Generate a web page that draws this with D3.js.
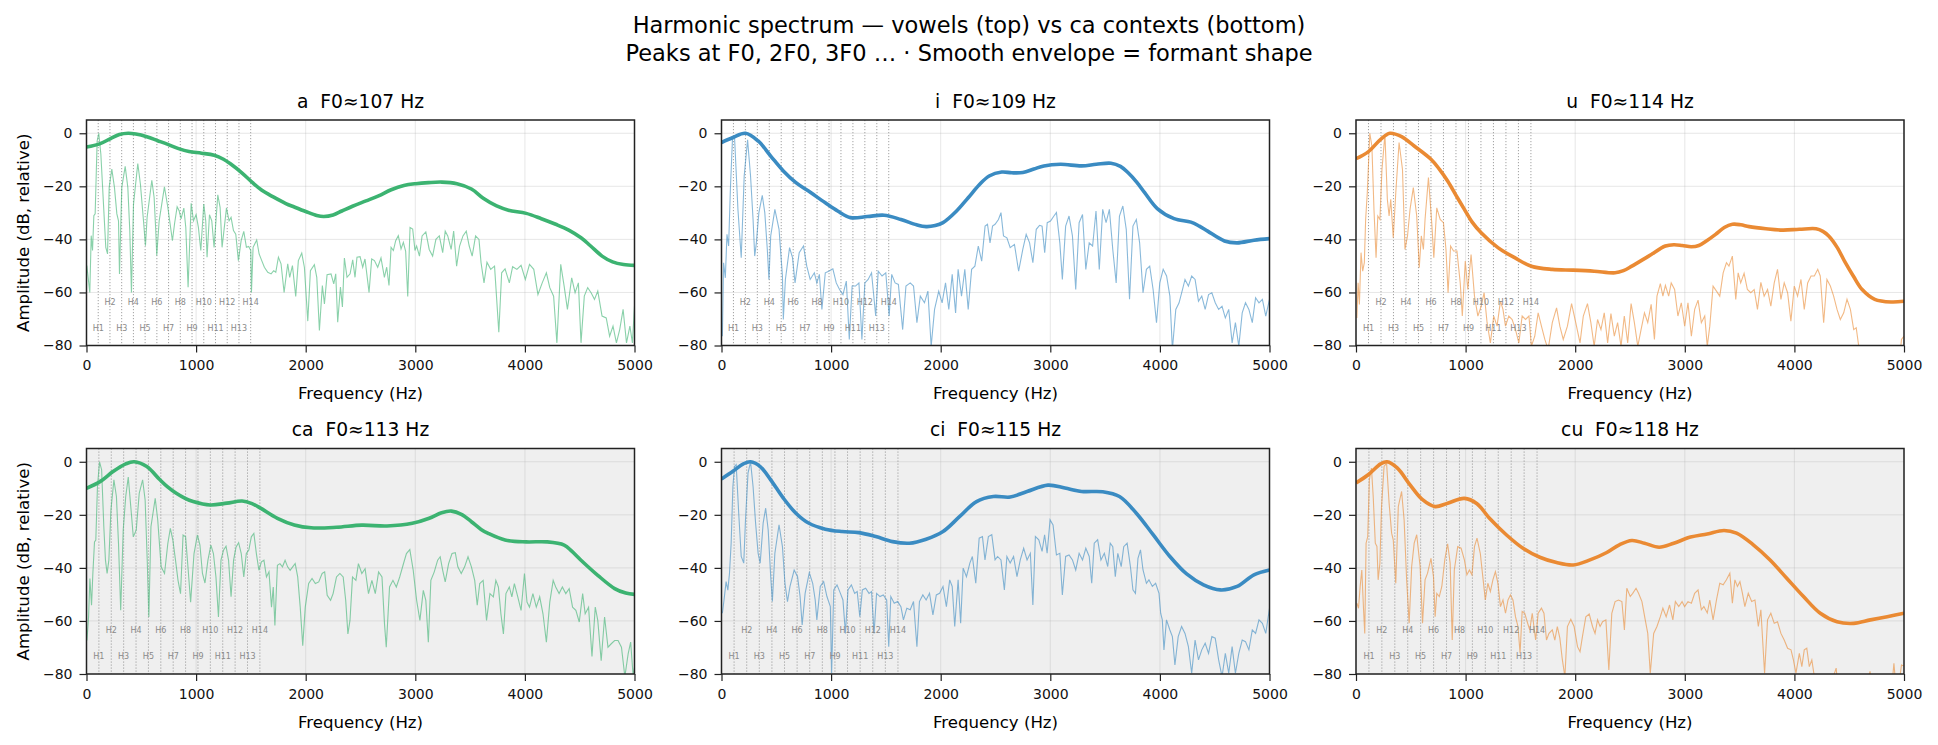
<!DOCTYPE html>
<html>
<head>
<meta charset="utf-8">
<script src="https://cdn.jsdelivr.net/npm/d3@7"></script>
<style>
body { margin: 0; background: #fff; }
svg { font-family: "DejaVu Sans", sans-serif; }
</style>
</head>
<body>
<div id="chart"></div>
<script>
// panels, fundamental frequency per token
var names = ['a', 'i', 'u', 'ca', 'ci', 'cu']
var f0s = [107, 109, 114, 113, 115, 118]
var xTicks = [0, 1000, 2000, 3000, 4000, 5000]
var yTicks = [-80, -60, -40, -20, 0]
var nHarm = 14

// smooth envelopes [Hz, dB]
var env_a = [[0,-5.2],[120,-4],[220,-2],[300,-0.5],[380,0],[450,-0.3],[550,-1.3],[650,-2.8],[742,-4.2],[840,-5.8],[935,-6.9],[1050,-7.5],[1165,-8.3],[1250,-9.8],[1319,-11.7],[1420,-15],[1512,-18.5],[1600,-21.5],[1704,-24],[1819,-26.5],[1896,-27.8],[2000,-29.5],[2100,-31],[2165,-31.4],[2250,-30.8],[2330,-29.3],[2427,-27.5],[2550,-25.5],[2665,-23.6],[2780,-21.3],[2896,-19.7],[3005,-19],[3120,-18.6],[3242,-18.4],[3380,-19],[3512,-21],[3620,-24.5],[3742,-27.4],[3850,-29],[4012,-30.2],[4150,-32.2],[4281,-34.3],[4400,-36.5],[4512,-39.4],[4600,-42.5],[4704,-46.3],[4800,-48.5],[4900,-49.5],[5000,-49.8]]
var env_i = [[0,-3.5],[104,-1.6],[219,0],[334,-2.9],[449,-8.6],[564,-14.2],[679,-18.6],[794,-21.8],[947,-26.2],[1060,-29.3],[1177,-31.8],[1331,-31.4],[1484,-30.9],[1637,-32.5],[1780,-34.5],[1867,-35.2],[1950,-34.8],[2021,-33.7],[2140,-29.5],[2251,-24.3],[2350,-19.5],[2442,-16.1],[2557,-14.6],[2649,-14.9],[2749,-14.8],[2850,-13.5],[2941,-12.3],[3094,-11.7],[3286,-12.3],[3420,-11.7],[3554,-11.3],[3640,-12.5],[3708,-14.8],[3790,-18.5],[3861,-22.4],[3976,-28.4],[4129,-32.2],[4283,-33.5],[4360,-35],[4436,-36.9],[4589,-40.6],[4705,-41.3],[4858,-40.3],[5000,-39.7]]
var env_u = [[0,-9.6],[111,-7],[225,-2.3],[309,0],[416,-1.3],[531,-4.8],[684,-9.8],[760,-13.5],[836,-18],[910,-23.2],[989,-28.7],[1060,-33.5],[1142,-37.5],[1295,-43.1],[1448,-46.9],[1600,-50.1],[1791,-51.3],[1982,-51.6],[2173,-52],[2364,-52.6],[2440,-51.8],[2517,-50.1],[2670,-46.3],[2823,-42.5],[2900,-42],[2976,-42.3],[3060,-42.8],[3128,-42.3],[3200,-40.5],[3281,-38.1],[3360,-35.5],[3434,-34.3],[3510,-34.5],[3587,-35.2],[3740,-36],[3892,-36.5],[4045,-36.2],[4198,-36],[4260,-37],[4313,-38.7],[4390,-43],[4465,-48.8],[4540,-54],[4618,-58.9],[4733,-62.6],[4885,-63.6],[5000,-63.3]]
var env_ca = [[0,-10],[127,-7.4],[242,-3.7],[358,-0.8],[435,0],[550,-1.8],[665,-6.6],[740,-9.5],[819,-11.9],[900,-13.8],[973,-15],[1127,-16.3],[1281,-15.6],[1420,-14.8],[1510,-15.8],[1588,-17.5],[1742,-21.3],[1896,-23.8],[2050,-24.9],[2281,-24.7],[2512,-23.9],[2742,-24.2],[2973,-23.2],[3127,-21.3],[3240,-19.2],[3330,-18.6],[3420,-19.8],[3512,-22.6],[3600,-25.5],[3665,-27],[3819,-29.5],[4012,-30.2],[4204,-30.2],[4358,-31.4],[4430,-33.8],[4512,-37.1],[4665,-42.8],[4819,-47.8],[4920,-49.5],[5000,-50]]
var env_ci = [[0,-6.5],[104,-3.6],[199,-0.8],[265,0],[353,-1.8],[449,-6.8],[564,-13.7],[679,-19.4],[794,-23.1],[947,-25.4],[1100,-26.3],[1254,-26.7],[1407,-28.2],[1561,-30.1],[1714,-30.7],[1867,-29.2],[2021,-26.3],[2174,-20.6],[2327,-15],[2481,-13.1],[2634,-13.3],[2788,-11.2],[2979,-8.8],[3133,-9.9],[3286,-11.2],[3478,-11.3],[3631,-13.1],[3785,-19.4],[3938,-27.5],[4091,-35.7],[4244,-42.3],[4398,-46.4],[4551,-48.3],[4705,-47],[4858,-42.6],[5000,-40.8]]
var env_cu = [[0,-8],[111,-4.9],[225,-0.8],[283,0],[378,-2.4],[493,-8.7],[607,-14.3],[722,-16.9],[836,-15.6],[989,-13.8],[1104,-15.8],[1218,-21.3],[1371,-27.5],[1524,-32.6],[1677,-36],[1830,-38],[1982,-38.9],[2135,-37],[2288,-34.2],[2403,-31.3],[2517,-29.7],[2632,-30.7],[2766,-32.2],[2899,-30.7],[3052,-28.4],[3205,-27.2],[3358,-25.9],[3472,-26.9],[3625,-31.3],[3778,-37],[3930,-43.9],[4083,-50.8],[4236,-57.1],[4389,-60.3],[4541,-60.9],[4694,-59.6],[4847,-58.4],[5000,-57.1]]

// raw harmonic spectra [Hz, dB]
var spec_a = [[3,-49.9],[18,-55.5],[30,-60],[43,-38.6],[55,-44.2],[67,-31.1],[79,-30.4],[97,-2.9],[112,0],[131,-7.9],[155,-26.7],[176,-43],[192,-45.5],[207,-20.4],[231,-13.5],[255,-20.4],[277,-30.4],[292,-33],[301,-53],[322,-20.4],[353,-12.5],[377,-20.4],[395,-36.7],[410,-60],[429,-26.7],[468,-11.4],[492,-19.2],[520,-33],[538,-42.4],[553,-31.7],[596,-17.7],[617,-24.2],[632,-36.7],[641,-46.1],[663,-33],[711,-20.2],[742,-27.9],[763,-34.2],[784,-40.5],[803,-34.2],[827,-27.7],[845,-29.2],[863,-32.3],[888,-28.2],[906,-35.5],[927,-58],[955,-26.4],[976,-33],[1000,-30.7],[1021,-35.5],[1043,-44.2],[1070,-26.7],[1088,-33],[1100,-46.7],[1122,-30.7],[1143,-33],[1164,-43],[1198,-23.2],[1219,-27.9],[1237,-43],[1277,-28.2],[1301,-33],[1319,-31.7],[1341,-36.7],[1362,-38],[1386,-48],[1411,-40.5],[1435,-37],[1459,-43],[1480,-42.7],[1499,-44.2],[1505,-60],[1520,-43],[1553,-40.2],[1575,-45.5],[1599,-48],[1623,-50.5],[1654,-52.4],[1684,-53],[1708,-51.8],[1727,-52.4],[1751,-46.7],[1775,-49.2],[1803,-60],[1836,-49.2],[1854,-54.3],[1879,-49.9],[1909,-61.5],[1933,-48],[1964,-45.2],[1988,-50.5],[2019,-70.8],[2043,-51.8],[2079,-49.5],[2101,-54.3],[2125,-74.3],[2152,-57.4],[2171,-64.3],[2195,-53.3],[2231,-53],[2256,-56.8],[2274,-53],[2292,-71.2],[2317,-58],[2335,-65.5],[2353,-47],[2377,-54.3],[2405,-53],[2429,-47.7],[2450,-54.3],[2468,-46.7],[2496,-46.5],[2520,-50.5],[2541,-47.4],[2578,-60],[2602,-47.4],[2627,-48],[2657,-50.5],[2687,-47],[2718,-54.3],[2739,-50.5],[2760,-57.4],[2779,-43],[2800,-44.2],[2821,-40.5],[2845,-38.6],[2870,-43.6],[2891,-41.1],[2912,-44.5],[2931,-61.5],[2952,-35.5],[2976,-36.1],[2997,-44.2],[3012,-42.5],[3038,-46.3],[3062,-38.7],[3096,-37.2],[3127,-43.8],[3158,-46.3],[3188,-40],[3219,-38.7],[3250,-45],[3273,-36.9],[3296,-38.7],[3327,-43.8],[3350,-36.9],[3377,-50.1],[3404,-42.5],[3435,-38.7],[3465,-36.9],[3492,-42.5],[3519,-46.3],[3550,-38.7],[3581,-40],[3600,-48.8],[3627,-56.4],[3654,-48.6],[3688,-51.3],[3723,-50.1],[3762,-75],[3788,-52.6],[3819,-51.1],[3858,-56.4],[3888,-50.3],[3927,-51.3],[3965,-49.8],[4004,-55.1],[4042,-49.4],[4081,-51.3],[4119,-60.8],[4158,-56.4],[4196,-52.6],[4227,-58.2],[4262,-61.4],[4292,-79],[4327,-49.4],[4358,-57.6],[4388,-66.4],[4427,-54.5],[4458,-60.1],[4488,-56.4],[4512,-79],[4542,-61.4],[4573,-58.2],[4604,-60.1],[4635,-62.6],[4665,-59.5],[4704,-68.9],[4742,-69.6],[4773,-76.5],[4804,-72.7],[4835,-79],[4865,-74],[4896,-66.4],[4927,-79],[4958,-72.7],[4981,-79],[5000,-65.2]]
var spec_i = [[8,-76.5],[19,-48.8],[35,-54.5],[50,-38.1],[65,-42.5],[81,-21.1],[100,-2.3],[119,-1.6],[150,-28.7],[180,-46.9],[207,-16.1],[238,-2.5],[265,-16.1],[288,-32.5],[303,-46.3],[318,-41.3],[341,-29.9],[372,-23.4],[395,-29.9],[418,-43.8],[433,-55.1],[449,-38.7],[487,-28.7],[525,-36.2],[556,-53.8],[564,-70.2],[583,-55.1],[621,-43.1],[648,-46.9],[671,-56.4],[709,-45],[748,-42.5],[778,-50.1],[809,-55.1],[847,-52.6],[870,-56.4],[893,-53.2],[916,-66.4],[947,-52.6],[978,-52],[1016,-51.1],[1047,-56.4],[1077,-58.9],[1108,-60.8],[1139,-55.7],[1166,-77.7],[1192,-57.6],[1223,-57.6],[1254,-56.4],[1281,-77.7],[1308,-56.4],[1338,-55.1],[1369,-52.6],[1407,-68.9],[1430,-52],[1465,-53.8],[1499,-52.6],[1530,-68.9],[1553,-53.2],[1584,-56.4],[1614,-57],[1653,-74],[1683,-57.6],[1722,-56.4],[1752,-57.6],[1783,-71.4],[1814,-61.4],[1852,-63.9],[1883,-59.5],[1913,-80.3],[1944,-66.4],[1982,-59.5],[2013,-63.9],[2044,-56.4],[2074,-66.4],[2105,-53.2],[2136,-67.7],[2159,-51.3],[2190,-61.4],[2220,-51.3],[2251,-66.4],[2282,-51.3],[2312,-50.1],[2343,-42.5],[2374,-48.2],[2405,-35],[2427,-34.3],[2450,-41.3],[2473,-35],[2496,-34.3],[2527,-32.5],[2550,-29.9],[2573,-38.7],[2604,-39.4],[2634,-43.1],[2673,-41.9],[2711,-52],[2749,-43.8],[2780,-38.1],[2811,-41.3],[2841,-48.8],[2872,-36.2],[2902,-34.7],[2925,-35],[2949,-45],[2972,-33.7],[3002,-33.1],[3033,-31.2],[3056,-29.9],[3087,-41.3],[3110,-55.1],[3140,-35],[3171,-31.2],[3202,-38.7],[3232,-58.9],[3263,-33.7],[3294,-30.6],[3324,-51.3],[3355,-41.3],[3386,-42.5],[3417,-29.3],[3447,-51.3],[3478,-28.7],[3509,-33.7],[3539,-28.7],[3570,-43.8],[3601,-56.4],[3631,-31.2],[3662,-27.4],[3693,-36.2],[3723,-62.6],[3754,-35],[3785,-32.5],[3815,-41.3],[3846,-60.1],[3877,-51.3],[3907,-50.1],[3938,-58.9],[3969,-71.4],[3999,-56.4],[4030,-51.3],[4061,-53.8],[4091,-61.4],[4114,-81.5],[4145,-66.4],[4175,-63.9],[4206,-58.9],[4229,-55.1],[4260,-57.6],[4290,-53.8],[4321,-55.1],[4352,-63.3],[4382,-61.4],[4413,-66.4],[4444,-60.8],[4474,-60.1],[4505,-63.9],[4536,-66.4],[4567,-65.2],[4597,-69.6],[4628,-66.4],[4659,-79],[4689,-71.4],[4720,-80.3],[4751,-67.7],[4781,-63.9],[4812,-66.4],[4843,-71.4],[4873,-62],[4904,-63.9],[4935,-62.6],[4966,-68.9],[5000,-62.6]]
var spec_u = [[8,-69.6],[19,-56.4],[31,-64.5],[46,-45],[61,-52],[76,-48.8],[88,-32.5],[103,-22.4],[126,0],[145,-4.8],[164,-28.7],[183,-46.9],[199,-31.2],[218,-32.5],[237,-13.6],[264,-0.4],[286,-24.9],[302,-31.2],[317,-24.9],[340,-39.4],[363,-22.4],[393,-3.5],[424,-13.6],[447,-43.8],[470,-38.7],[493,-28.7],[523,-20.5],[554,-31.2],[577,-50.7],[596,-38.7],[615,-43.8],[630,-32.5],[661,-16.7],[691,-33.7],[710,-46.9],[737,-28.1],[768,-32.5],[798,-33.7],[821,-43.8],[840,-60.1],[863,-42.5],[890,-44.4],[921,-44.4],[951,-56.4],[970,-68.9],[997,-48.2],[1020,-58.9],[1050,-45.7],[1081,-61.4],[1112,-68.9],[1142,-65.2],[1169,-60.1],[1196,-71.4],[1226,-79],[1257,-68.9],[1287,-72.7],[1318,-63.3],[1341,-66.4],[1364,-72.7],[1394,-68.9],[1425,-70.2],[1455,-74],[1486,-79],[1516,-68.9],[1547,-70.2],[1578,-68.9],[1600,-80.3],[1631,-76.5],[1662,-67.7],[1692,-72.7],[1723,-77.7],[1753,-81.5],[1791,-71.4],[1830,-65.8],[1860,-72.7],[1891,-77.7],[1929,-72.7],[1967,-64.2],[2005,-71.4],[2044,-79],[2074,-68.9],[2112,-64.2],[2143,-71.4],[2173,-80.3],[2204,-70.2],[2235,-74],[2265,-67.7],[2296,-79],[2326,-68],[2357,-76.5],[2387,-71.4],[2418,-80.3],[2448,-68.9],[2479,-79],[2510,-64.2],[2540,-71.4],[2571,-80.3],[2601,-74],[2632,-67.7],[2662,-71.4],[2693,-64.5],[2723,-77.7],[2746,-61.4],[2777,-56.7],[2800,-61.4],[2823,-57.3],[2853,-61.4],[2876,-56.4],[2907,-58.9],[2937,-68.9],[2968,-63.9],[2999,-72.7],[3029,-63.9],[3060,-76.5],[3090,-66.4],[3121,-62.9],[3151,-71.4],[3182,-68.9],[3205,-80.3],[3228,-72.7],[3258,-57.6],[3289,-59.5],[3319,-61.4],[3350,-52.6],[3380,-48.8],[3403,-50.1],[3434,-46.3],[3465,-62.6],[3487,-52.6],[3510,-56.4],[3541,-52.8],[3571,-58.9],[3602,-60.1],[3633,-58.9],[3663,-66.4],[3694,-56.2],[3724,-61.4],[3755,-58.9],[3785,-65.2],[3816,-56.4],[3846,-51.3],[3877,-62.6],[3907,-56.4],[3938,-60.1],[3968,-70.8],[3999,-57.6],[4029,-61.4],[4060,-55.1],[4090,-66.4],[4121,-56.4],[4152,-53.8],[4182,-53.8],[4213,-51.3],[4236,-53.8],[4267,-71.4],[4297,-55.1],[4328,-57.6],[4358,-61.4],[4389,-66.4],[4419,-70.2],[4450,-67.7],[4480,-62.6],[4511,-66.4],[4541,-74],[4564,-73.3],[4587,-80.3],[4620,-92],[4700,-95],[4800,-90],[4900,-92],[4960,-85],[4977,-77.7],[5000,-76.5]]
var spec_ca = [[4,-67.4],[19,-58.5],[31,-44],[46,-54.1],[58,-42.1],[73,-30.2],[85,-29.5],[100,-9.3],[119,0],[138,-3],[158,-24.5],[173,-37.1],[188,-42.1],[204,-37.1],[223,-18.2],[250,-6.8],[273,-13.1],[292,-30.8],[312,-56],[335,-25.7],[358,-13.1],[381,-5.8],[404,-16.9],[427,-28.3],[454,-25.7],[481,-11.9],[512,-6.8],[535,-14.4],[554,-37.1],[569,-58.5],[588,-24.5],[627,-13.8],[650,-22],[681,-39.6],[712,-42.1],[742,-30.8],[765,-25.1],[788,-29.5],[812,-37.1],[835,-44.7],[858,-49.7],[881,-27.6],[904,-28.3],[927,-40.3],[950,-52.9],[981,-34.6],[1012,-27.6],[1035,-31.4],[1058,-42.1],[1081,-45.7],[1108,-37.1],[1135,-31.4],[1158,-34.6],[1181,-43.4],[1204,-58.5],[1227,-37.1],[1250,-33.3],[1273,-31.8],[1296,-37.1],[1319,-50.9],[1342,-37.1],[1365,-32.1],[1388,-30.5],[1412,-34.6],[1435,-43.4],[1458,-34.6],[1481,-33.3],[1504,-28.3],[1527,-27],[1550,-34.6],[1573,-40.9],[1596,-37.7],[1619,-37.1],[1642,-43.4],[1665,-41.5],[1688,-54.8],[1704,-47.2],[1719,-61.7],[1742,-39],[1765,-38.4],[1788,-39.6],[1812,-37.1],[1835,-39.6],[1858,-40.9],[1881,-39.6],[1904,-38.4],[1927,-43.4],[1950,-54.8],[1973,-69.3],[1996,-54.8],[2027,-45.9],[2058,-44],[2088,-45.9],[2119,-45.3],[2150,-42.1],[2173,-41.5],[2196,-50.3],[2227,-52.2],[2250,-49.7],[2281,-43.4],[2312,-42.1],[2342,-43.4],[2365,-52.2],[2385,-64.9],[2404,-59.8],[2427,-43.4],[2458,-44.7],[2481,-38.4],[2512,-42.1],[2542,-40.3],[2573,-49.7],[2604,-44.7],[2635,-49.7],[2665,-41.5],[2696,-43.4],[2719,-61.1],[2735,-69.9],[2765,-47.2],[2796,-44.7],[2827,-47.2],[2858,-43.4],[2888,-39],[2919,-34.6],[2950,-33.1],[2981,-40.9],[3012,-52.2],[3042,-59.8],[3073,-48.5],[3096,-52.2],[3119,-68],[3142,-44.7],[3173,-41.5],[3204,-37.1],[3227,-35.8],[3250,-40.9],[3273,-45.3],[3304,-38.4],[3335,-34.6],[3365,-34.3],[3388,-39.6],[3419,-42.1],[3450,-39.6],[3481,-35.8],[3512,-39.6],[3542,-44.7],[3565,-54.1],[3588,-45.9],[3619,-44.7],[3650,-59.8],[3681,-49.7],[3712,-50.9],[3735,-44.7],[3758,-47.2],[3781,-57.3],[3804,-64.9],[3827,-49.7],[3858,-47.2],[3881,-50.9],[3904,-45.9],[3935,-50.9],[3965,-56],[3996,-42.1],[4019,-52.9],[4042,-54.8],[4073,-49.7],[4104,-54.8],[4135,-50.9],[4165,-57.3],[4196,-68],[4227,-52.9],[4258,-44.7],[4281,-47.2],[4312,-49.7],[4342,-47.2],[4373,-49.7],[4404,-47.8],[4435,-54.8],[4465,-56],[4496,-60.4],[4527,-49.7],[4550,-57.3],[4581,-54.8],[4612,-73.4],[4642,-54.8],[4665,-59.8],[4696,-75],[4727,-58.5],[4758,-69.9],[4788,-68.6],[4819,-67.4],[4850,-67.4],[4881,-69.9],[4912,-81],[4942,-72.4],[4965,-68],[4988,-81],[5000,-77.5]]
var spec_ci = [[8,-57.1],[23,-52.1],[42,-45.2],[58,-48.4],[73,-42],[88,-30.7],[104,-9.3],[119,-1.8],[134,-1.1],[157,-19.4],[180,-35.7],[203,-38.2],[219,-21.9],[242,-4.3],[265,0],[288,-9.3],[311,-23.1],[334,-34.5],[353,-38.2],[380,-23.1],[403,-17.5],[426,-25.7],[449,-43.3],[464,-52.7],[487,-34.5],[525,-23.8],[556,-32],[579,-45.8],[602,-52.7],[625,-47],[663,-40.8],[694,-43.3],[717,-50.8],[736,-61.5],[763,-49.6],[801,-41.8],[832,-45.8],[855,-52.1],[870,-59.6],[901,-47],[932,-45.2],[962,-50.8],[993,-54.6],[1005,-79.7],[1024,-48.3],[1054,-46.4],[1085,-49.6],[1108,-52.1],[1131,-64.7],[1154,-48.3],[1185,-46.4],[1215,-49.6],[1238,-48.9],[1262,-58.4],[1285,-48.3],[1315,-47.7],[1346,-49.6],[1369,-48.9],[1392,-64.7],[1415,-49.6],[1446,-50.8],[1476,-50.2],[1507,-52.1],[1526,-69.7],[1545,-50.8],[1576,-53.3],[1607,-52.7],[1637,-54.6],[1660,-59.6],[1691,-55.2],[1722,-55.8],[1752,-52.7],[1783,-69.7],[1806,-52.7],[1837,-50.2],[1867,-52.1],[1898,-49.6],[1929,-57.7],[1960,-50.2],[1990,-49.6],[2021,-47],[2052,-54.6],[2082,-44.5],[2105,-47],[2128,-62.1],[2159,-44.5],[2182,-60.9],[2205,-40.1],[2235,-43.3],[2266,-38.2],[2289,-35.7],[2320,-45.8],[2351,-28.8],[2381,-28.2],[2404,-37],[2435,-28.2],[2466,-27.5],[2496,-37],[2519,-35.7],[2550,-37],[2581,-48.3],[2604,-35.7],[2634,-38.2],[2665,-35.7],[2696,-43.3],[2726,-37],[2757,-32.6],[2788,-37],[2818,-34.5],[2841,-54],[2864,-28.2],[2895,-29.4],[2925,-33.8],[2948,-27.5],[2971,-34.5],[2998,-21.9],[3025,-23.8],[3056,-35.1],[3087,-34.5],[3110,-50.2],[3140,-35.7],[3171,-35.1],[3202,-37],[3232,-40.8],[3263,-34.5],[3294,-37],[3324,-32.6],[3355,-35.7],[3378,-45.8],[3401,-30.7],[3432,-29.4],[3462,-37],[3493,-34.5],[3524,-39.5],[3547,-30.7],[3570,-32],[3593,-43.3],[3616,-34.5],[3647,-39.5],[3670,-32],[3701,-30.7],[3731,-39.5],[3754,-48.3],[3777,-49.6],[3800,-36.4],[3823,-33.2],[3846,-40.8],[3877,-45.8],[3900,-44.5],[3931,-47],[3961,-45.8],[3992,-49.6],[4007,-57.1],[4022,-59.6],[4037,-70.9],[4060,-59.6],[4091,-63.4],[4114,-65.9],[4137,-76.6],[4167,-65.9],[4198,-62.1],[4229,-64.7],[4260,-69.7],[4290,-79.7],[4321,-67.2],[4352,-74.7],[4382,-70.9],[4413,-68.4],[4444,-72.2],[4474,-65.9],[4505,-66.5],[4536,-74.7],[4567,-81],[4597,-72.2],[4628,-79.7],[4659,-69.7],[4689,-79.7],[4720,-72.2],[4751,-67.2],[4781,-67.8],[4812,-70.9],[4843,-63.4],[4873,-64.7],[4904,-59.6],[4935,-60.9],[4966,-64.7],[5000,-55.2]]
var spec_cu = [[8,-53.3],[23,-55.2],[38,-47],[53,-40.8],[69,-55.8],[80,-64.7],[92,-30.7],[107,-28.2],[122,-6.8],[141,-2.4],[157,-13.1],[176,-30.7],[191,-31.9],[202,-44.5],[218,-38.2],[233,-16.9],[256,-1.8],[279,-0.5],[302,-15.6],[325,-26.9],[340,-29.4],[363,-45.8],[386,-16.9],[416,-11.2],[439,-21.9],[462,-44.5],[485,-60.9],[508,-39.5],[531,-30.7],[554,-27.5],[585,-39.5],[607,-60.9],[630,-44.5],[653,-42],[684,-36.4],[707,-43.3],[722,-58.4],[737,-49.6],[760,-50.8],[783,-47],[810,-37],[836,-30.9],[859,-38.2],[878,-67.2],[897,-40.8],[928,-32],[959,-32.6],[989,-37],[1012,-42.6],[1035,-40.8],[1058,-42.6],[1081,-32],[1104,-28.8],[1134,-34.5],[1157,-43.3],[1180,-52.1],[1203,-45.8],[1226,-48.9],[1249,-44.5],[1272,-41.4],[1295,-45.8],[1318,-54.6],[1341,-52.1],[1364,-57.1],[1387,-52.1],[1409,-50.2],[1432,-52.1],[1455,-58.4],[1478,-62.1],[1497,-72.2],[1516,-56.4],[1539,-57],[1562,-60.3],[1585,-63.4],[1608,-57.1],[1639,-67.2],[1662,-57.1],[1692,-55.2],[1715,-57.1],[1738,-67.2],[1761,-64.7],[1791,-63.4],[1814,-67.2],[1837,-62.1],[1860,-66.5],[1883,-74.7],[1906,-81],[1929,-62.1],[1960,-59.4],[1990,-62.1],[2021,-69.7],[2044,-71.6],[2066,-65.9],[2097,-58.4],[2128,-57.4],[2158,-62.1],[2181,-64.7],[2204,-59.6],[2227,-62.1],[2250,-60.3],[2280,-59.6],[2307,-78.5],[2334,-57.1],[2364,-52.7],[2395,-52.1],[2426,-52.7],[2449,-63.4],[2471,-47.7],[2502,-50.8],[2525,-49.6],[2555,-47.7],[2578,-49.6],[2609,-52.7],[2639,-59.6],[2662,-64.7],[2685,-79.7],[2716,-64.7],[2746,-62.1],[2777,-58.4],[2800,-55.2],[2830,-58.4],[2861,-54],[2891,-59.6],[2914,-52.7],[2945,-54.6],[2975,-52.7],[2998,-54.6],[3029,-52.7],[3060,-53.3],[3090,-49.6],[3121,-48.3],[3151,-55.8],[3174,-54.6],[3205,-57],[3228,-52.1],[3258,-59.6],[3289,-52.1],[3319,-45.8],[3350,-46.4],[3380,-44.5],[3411,-42],[3434,-53.3],[3457,-44.5],[3480,-47],[3503,-45.2],[3526,-49.6],[3548,-54.6],[3579,-49.6],[3610,-52.7],[3640,-52.1],[3671,-62.1],[3694,-55.8],[3728,-79.7],[3755,-59.6],[3785,-57.1],[3816,-60.9],[3846,-60.3],[3877,-64.7],[3907,-67.2],[3938,-70.3],[3969,-70.9],[3991,-74.7],[4014,-79.7],[4045,-72.2],[4068,-77.2],[4090,-70.9],[4113,-70.3],[4136,-77.2],[4159,-74.7],[4182,-81],[4250,-90],[4330,-84],[4381,-77.8],[4400,-86],[4500,-92],[4650,-86],[4690,-79],[4720,-88],[4850,-90],[4895,-82],[4908,-76],[4925,-84],[4960,-82],[4977,-76.6],[5000,-77]]

var envs = [env_a, env_i, env_u, env_ca, env_ci, env_cu]
var specs = [spec_a, spec_i, spec_u, spec_ca, spec_ci, spec_cu]
var colors = ['#3cb371', '#3a8bc2', '#ea8a33']

var W = 1938, H = 745
var colX = [86.5, 721.5, 1356]
var rowY = [120, 448.5]
var pw = 548, ph = 225.5

var svg = d3.select('#chart').append('svg')
	.attr('width', W).attr('height', H)

svg.append('text').attr('x', W/2).attr('y', 33)
	.attr('text-anchor', 'middle').style('font-size', '22.5px')
	.text('Harmonic spectrum — vowels (top) vs ca contexts (bottom)')
svg.append('text').attr('x', W/2).attr('y', 60.5)
	.attr('text-anchor', 'middle').style('font-size', '22.5px')
	.text('Peaks at F0, 2F0, 3F0 … · Smooth envelope = formant shape')

var x = d3.scaleLinear().domain([0, 5000]).range([0, pw])
var y = d3.scaleLinear().domain([-80, 5]).range([ph, 0])

var specLine = d3.line().x(d=>x(d[0])).y(d=>y(d[1]))
var envLine = d3.line().x(d=>x(d[0])).y(d=>y(d[1])).curve(d3.curveCatmullRom.alpha(0.5))

names.forEach((name, i) => {
	var row = Math.floor(i/3), col = i%3
	var color = colors[col]
	var g = svg.append('g')
		.attr('transform', 'translate(' + colX[col] + ',' + rowY[row] + ')')

	g.append('rect').attr('width', pw).attr('height', ph)
		.attr('fill', row ? '#efefef' : '#fff')

	g.append('clipPath').attr('id', 'clip' + i)
		.append('rect').attr('width', pw).attr('height', ph)

	// grid
	g.append('g').selectAll('line').data(xTicks).enter().append('line')
		.attr('x1', d=>x(d)).attr('x2', d=>x(d)).attr('y1', 0).attr('y2', ph)
		.attr('stroke', '#b0b0b0').attr('stroke-opacity', 0.3)
	g.append('g').selectAll('line').data(yTicks).enter().append('line')
		.attr('y1', d=>y(d)).attr('y2', d=>y(d)).attr('x1', 0).attr('x2', pw)
		.attr('stroke', '#b0b0b0').attr('stroke-opacity', 0.3)

	var plot = g.append('g').attr('clip-path', 'url(#clip' + i + ')')
	var harm = d3.range(1, nHarm + 1)

	plot.append('g').selectAll('line').data(harm).enter().append('line')
		.attr('x1', k=>x(k*f0s[i])).attr('x2', k=>x(k*f0s[i]))
		.attr('y1', 0).attr('y2', ph)
		.attr('stroke', '#8a8a8a').attr('stroke-width', 0.8)
		.attr('stroke-dasharray', '1.2,1.8')

	plot.append('path').datum(specs[i]).attr('d', specLine)
		.attr('fill', 'none').attr('stroke', color)
		.attr('stroke-width', 1.1).attr('stroke-opacity', 0.6)

	plot.append('g').selectAll('text').data(harm).enter().append('text')
		.attr('x', k=>x(k*f0s[i])).attr('y', k=>y(k%2 ? -73.3 : -63.5))
		.attr('text-anchor', 'middle').attr('dy', '0.35em')
		.style('font-size', '8px').attr('fill', '#8a8a8a')
		.text(k=>'H' + k)

	plot.append('path').datum(envs[i]).attr('d', envLine)
		.attr('fill', 'none').attr('stroke', color)
		.attr('stroke-width', 3.6).attr('stroke-linejoin', 'round')

	// axes
	var xa = g.append('g').attr('transform', 'translate(0,' + ph + ')')
		.call(d3.axisBottom(x).tickValues(xTicks).tickSize(7).tickPadding(8).tickFormat(d3.format('d')))
	var ya = g.append('g')
		.call(d3.axisLeft(y).tickValues(yTicks).tickSize(7).tickPadding(7))
	;[xa, ya].forEach(a => {
		a.select('.domain').remove()
		a.selectAll('line').attr('stroke', '#222').attr('stroke-width', 1.2)
		a.selectAll('text').style('font-size', '14px').attr('fill', '#111')
			.style('font-family', '"DejaVu Sans", sans-serif')
	})

	g.append('rect').attr('width', pw).attr('height', ph)
		.attr('fill', 'none').attr('stroke', '#222').attr('stroke-width', 1.5)

	g.append('text').attr('x', pw/2).attr('y', -12.5)
		.attr('text-anchor', 'middle').style('font-size', '18.7px')
		.style('white-space', 'pre')
		.text(name + '  F0≈' + f0s[i] + ' Hz')

	g.append('text').attr('x', pw/2).attr('y', ph + 48)
		.attr('text-anchor', 'middle').attr('dy', '0.35em')
		.style('font-size', '16.6px')
		.text('Frequency (Hz)')

	if (col === 0) {
		g.append('text')
			.attr('transform', 'translate(' + (23 - colX[0]) + ',' + (ph/2) + ') rotate(-90)')
			.attr('text-anchor', 'middle').attr('dy', '0.35em')
			.style('font-size', '16.6px')
			.text('Amplitude (dB, relative)')
	}
})
</script>
</body>
</html>
